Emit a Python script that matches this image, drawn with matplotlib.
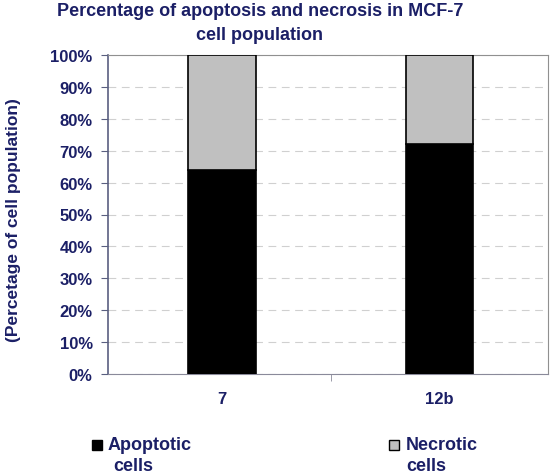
import matplotlib.pyplot as plt
from matplotlib.patches import Rectangle
from matplotlib.ticker import FuncFormatter, FixedLocator

# data
compounds = ['7', '12b']
apoptotic = [64, 72]
necrotic = [36, 28]

navy = '#1b1f66'
plt.rcParams['font.family'] = ['Liberation Sans', 'DejaVu Sans']
plt.rcParams['font.weight'] = 'bold'

fig = plt.figure(figsize=(5.5, 4.77), dpi=100)
ax = fig.add_axes([108 / 550, 1 - 375 / 477, 440 / 550, 319 / 477])

x = range(len(compounds))
ax.bar(x, apoptotic, width=0.31, color='black', edgecolor='black', linewidth=1.2, zorder=3)
ax.bar(x, necrotic, width=0.31, bottom=apoptotic, color='#c0c0c0',
       edgecolor='black', linewidth=1.2, zorder=3)

ax.set_xlim(-0.525, 1.5)
ax.set_ylim(0, 100)
ax.set_yticks(range(0, 101, 10))
ax.yaxis.set_major_formatter(FuncFormatter(lambda v, p: f'{int(v)}%'))
ax.set_xticks(list(x))
ax.set_xticklabels(compounds)
ax.xaxis.set_minor_locator(FixedLocator([0.5]))
ax.tick_params(axis='x', which='major', length=0, pad=12, labelsize=12, labelcolor=navy)
ax.tick_params(axis='x', which='minor', length=5, color='#8a8a9a')
ax.tick_params(axis='y', length=5, color='#5a5f80', labelsize=12, labelcolor=navy, pad=6)

ax.grid(axis='y', color='#d0d0d0', linestyle=(0, (7, 5)), linewidth=0.8, zorder=0)
ax.spines['left'].set_color('#5a5f80')
ax.spines['left'].set_linewidth(1.2)
ax.spines['bottom'].set_color('#8a8a9a')
ax.spines['top'].set_color('#909090')
ax.spines['right'].set_color('#909090')

fig.text(260 / 550, 1 - 12 / 477, 'Percentage of apoptosis and necrosis in MCF-7',
         ha='center', va='center', fontsize=13, color=navy)
fig.text(260 / 550, 1 - 36 / 477, 'cell population',
         ha='center', va='center', fontsize=13, color=navy)
fig.text(14 / 550, 1 - 220 / 477, '(Percetage of cell population)', rotation=90,
         ha='center', va='center', fontsize=12.5, color=navy)

# legend
fig.patches.append(Rectangle((92 / 550, 1 - 451 / 477), 10 / 550, 10 / 477,
                             transform=fig.transFigure, facecolor='black', edgecolor='black'))
fig.patches.append(Rectangle((389 / 550, 1 - 451 / 477), 10 / 550, 10 / 477,
                             transform=fig.transFigure, facecolor='#c0c0c0', edgecolor='black'))
fig.text(108 / 550, 1 - 446 / 477, 'Apoptotic', ha='left', va='center', fontsize=13, color=navy)
fig.text(113 / 550, 1 - 467 / 477, 'cells', ha='left', va='center', fontsize=13, color=navy)
fig.text(406 / 550, 1 - 446 / 477, 'Necrotic', ha='left', va='center', fontsize=13, color=navy)
fig.text(406 / 550, 1 - 467 / 477, 'cells', ha='left', va='center', fontsize=13, color=navy)

plt.savefig('out.png', dpi=100)
